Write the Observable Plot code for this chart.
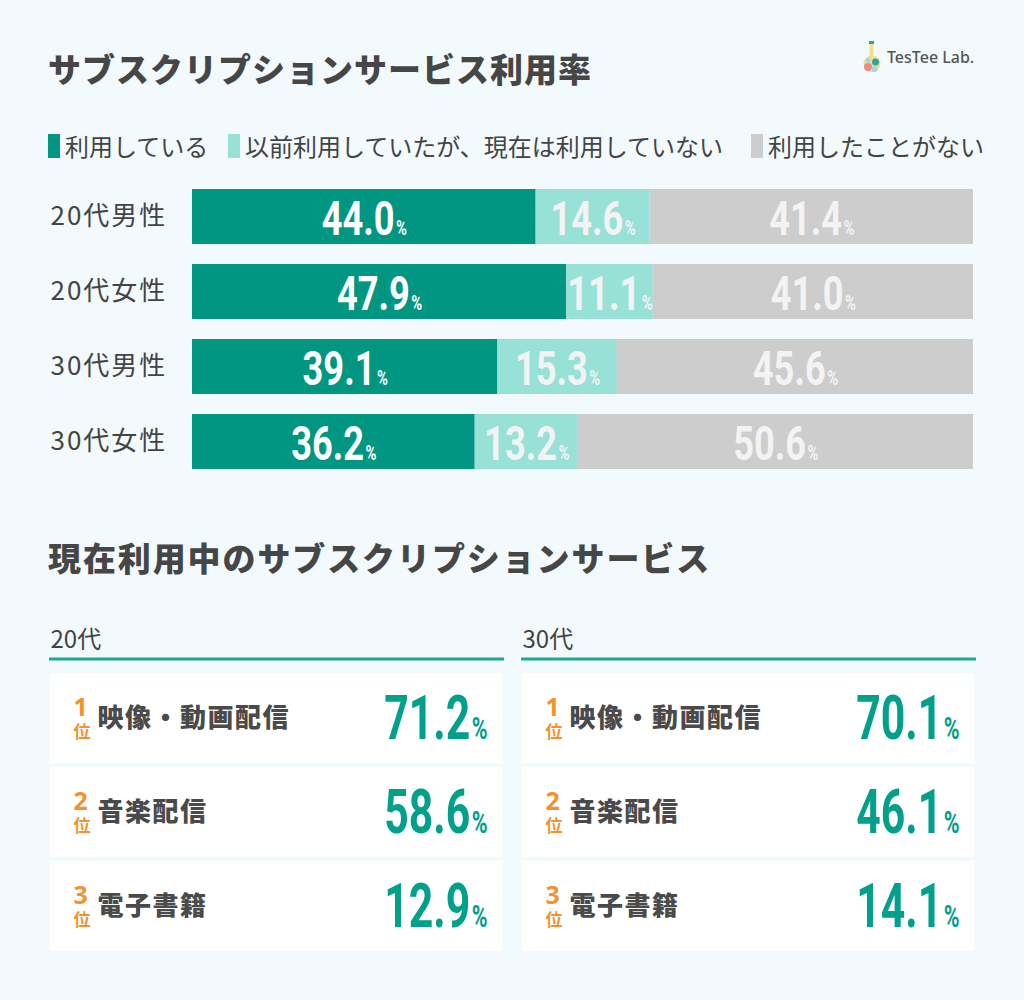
<!DOCTYPE html>
<html><head><meta charset="utf-8">
<script src="https://cdn.jsdelivr.net/npm/d3@7"></script>
<script src="https://cdn.jsdelivr.net/npm/@observablehq/plot@0.6"></script>
<style>
body{margin:0;background:#f2fafd;}
#root{position:relative;width:1024px;height:1000px;background:#f2fafd;font-family:"Noto Sans CJK JP","Noto Sans",sans-serif;color:#444;overflow:hidden}
.abs{position:absolute;white-space:nowrap}
.title{font-size:33px;font-weight:900;line-height:33px;letter-spacing:1px;color:#464646}
.leg{position:absolute;top:134px;height:24px;display:flex;align-items:center;font-size:24px;line-height:24px;color:#444;white-space:nowrap}
.leg .sw{width:12px;height:24px;margin-right:5px}
#chart1{position:absolute;left:0;top:170px}
#chart2{position:absolute;left:0;top:600px}
.logo{position:absolute;left:862px;top:40px;display:flex;align-items:center}
.logo span{font-family:"Noto Sans","Lato",sans-serif;font-size:16px;color:#555;margin-left:5px;font-weight:500}
</style></head>
<body><div id="root">
<div class="abs title" style="left:48px;top:52px">サブスクリプションサービス利用率</div>
<div class="logo">
<svg width="20" height="34" viewBox="0 0 20 34">
<rect x="7" y="1" width="5" height="3" fill="#2aa79a"/>
<rect x="7.5" y="4" width="4" height="12" fill="#f6dd87"/>
<circle cx="10" cy="24" r="8.5" fill="#f6dd87"/>
<circle cx="6" cy="27" r="4" fill="#f08a8a"/>
<circle cx="13.5" cy="22" r="3.5" fill="#2aa79a"/>
<circle cx="12.5" cy="29" r="3" fill="#9fd7e8"/>
<circle cx="6" cy="20.5" r="2.5" fill="#9fd7e8"/>
</svg>
<span>TesTee Lab.</span>
</div>
<div id="legend"></div>
<div id="chart1"></div>
<div class="abs title" style="left:48px;top:541px;letter-spacing:1.9px">現在利用中のサブスクリプションサービス</div>
<div id="chart2"></div>
</div>
<script>
// ---- data: usage rate ----
const groups = ["20代男性","20代女性","30代男性","30代女性"];
const types = ["利用している","以前利用していたが、現在は利用していない","利用したことがない"];
const usingNow = [44.0, 47.9, 39.1, 36.2];
const usedBefore = [14.6, 11.1, 15.3, 13.2];
const neverUsed = [41.4, 41.0, 45.6, 50.6];
const colors = ["#009681", "#98e1d7", "#cdcdcd"];
const labelColors = ["#ffffff", "#f3f3f3", "#f3f3f3"];

// ---- data: ranking ----
const ages = ["20代","30代"];
const ranks = [1, 2, 3];
const rankSuffix = "位";
const services20 = ["映像・動画配信","音楽配信","電子書籍"];
const share20 = [71.2, 58.6, 12.9];
const services30 = ["映像・動画配信","音楽配信","電子書籍"];
const share30 = [70.1, 46.1, 14.1];

const series = [usingNow, usedBefore, neverUsed];
const rows = groups.flatMap((g, i) => types.map((t, k) => ({group: g, type: t, k, value: series[k][i]})));
const cards = [
  ...ranks.map((r, i) => ({age: ages[0], rank: r, service: services20[i], share: share20[i]})),
  ...ranks.map((r, i) => ({age: ages[1], rank: r, service: services30[i], share: share30[i]}))
];

// legend
const legendLeft = [48, 228, 751];
const legend = document.getElementById("legend");
types.forEach((t, k) => {
  const d = document.createElement("div");
  d.className = "leg";
  d.style.left = legendLeft[k] + "px";
  d.innerHTML = `<div class="sw" style="background:${colors[k]}"></div><div>${t}</div>`;
  legend.appendChild(d);
});

const FONT = "'Noto Sans CJK JP','Noto Sans',sans-serif";

const chart1 = Plot.plot({
  width: 1024, height: 310,
  marginTop: 9, marginBottom: 1, marginLeft: 192, marginRight: 51,
  style: {background: "transparent", fontFamily: FONT, overflow: "visible"},
  x: {domain: [0, 100], axis: null},
  y: {domain: groups, axis: null, paddingInner: 20/75, paddingOuter: 10/75},
  color: {domain: types, range: colors},
  marks: [
    Plot.barX(rows, {x: "value", y: "group", fill: "type"}),
    Plot.text(rows, Plot.stackX({x: "value", y: "group", z: "type", text: d => d.value.toFixed(1),
      fill: "white", fontSize: 49, fontWeight: 700, fontFamily: "Roboto", dy: 2})),
    Plot.text(groups, {y: d => d, text: d => d, frameAnchor: "left", textAnchor: "start", dx: -142,
      fontSize: 26, fill: "#444"})
  ]
});
document.getElementById("chart1").appendChild(chart1);

const chart2 = Plot.plot({
  width: 1024, height: 360,
  marginTop: 73, marginBottom: 9, marginLeft: 50, marginRight: 50,
  style: {background: "transparent", fontFamily: FONT, overflow: "visible"},
  fx: {domain: ages, paddingInner: 20/472, paddingOuter: 0, axis: null},
  y: {domain: ranks, paddingInner: 4/94, paddingOuter: 0, axis: null},
  marks: [
    Plot.frame({anchor: "top", stroke: "#1ea596", strokeWidth: 3, dy: -14.5}),
    Plot.text(ages, {fx: d => d, text: d => d, frameAnchor: "top-left", lineAnchor: "top", dy: -43,
      fontSize: 24, fill: "#444"}),
    Plot.cell(cards, {fx: "age", y: "rank", fill: "white"}),
    Plot.text(cards, {fx: "age", y: "rank", text: d => `${d.rank}\n${rankSuffix}`, frameAnchor: "left", dx: 23,
      fontSize: 25, fontWeight: 700, fill: "#f5922f", fontFamily: "'Noto Sans','Noto Sans CJK JP',sans-serif"}),
    Plot.text(cards, {fx: "age", y: "rank", text: "service", frameAnchor: "left", textAnchor: "start", dx: 47,
      fontSize: 26, fontWeight: 900, fill: "#4a4a4a"}),
    Plot.text(cards, {fx: "age", y: "rank", text: d => d.share.toFixed(1), frameAnchor: "right", textAnchor: "end", dx: -15, dy: 1,
      fontSize: 62, fontWeight: 700, fontFamily: "Roboto", fill: "#00a08b"})
  ]
});
document.getElementById("chart2").appendChild(chart2);

// condensed numbers with a small percent sign
function condense(svg, fontSize, scale, pctSize, fills) {
  d3.select(svg).selectAll(`g[font-size="${fontSize}"] text`).each(function(_, i) {
    const sel = d3.select(this);
    const t = this.textContent;
    sel.text(null);
    sel.append("tspan").text(t);
    sel.append("tspan").attr("dx", 2).attr("font-size", pctSize).text("%");
    if (fills) sel.attr("fill", fills[i % fills.length]);
    const tr = sel.attr("transform");
    if (tr) sel.attr("transform", tr + ` scale(${scale},1)`);
    else {
      const x = +sel.attr("x") || 0;
      sel.attr("transform", `translate(${x * (1 - scale)},0) scale(${scale},1)`);
    }
  });
}
condense(chart1, 49, 0.74, 20, labelColors);
condense(chart2, 62, 0.69, 31, null);
d3.select(chart1).selectAll('g[font-size="26"] text').style("letter-spacing", "2px");
d3.select(chart2).selectAll('g[font-size="26"] text').style("letter-spacing", "1.5px");
// rank number above a smaller 位
d3.select(chart2).selectAll('g[font-size="25"] text').each(function() {
  const sel = d3.select(this);
  sel.attr("y", null).attr("dy", null);
  const ts = sel.selectAll("tspan");
  ts.filter((_, j) => j === 0).attr("x", 0).attr("y", null).attr("dy", "-3px");
  ts.filter((_, j) => j === 1).attr("x", 0).attr("y", null).attr("dy", "22px").attr("font-size", 17)
    .attr("font-family", "'Noto Sans CJK JP',sans-serif");
});
</script>
</body></html>
